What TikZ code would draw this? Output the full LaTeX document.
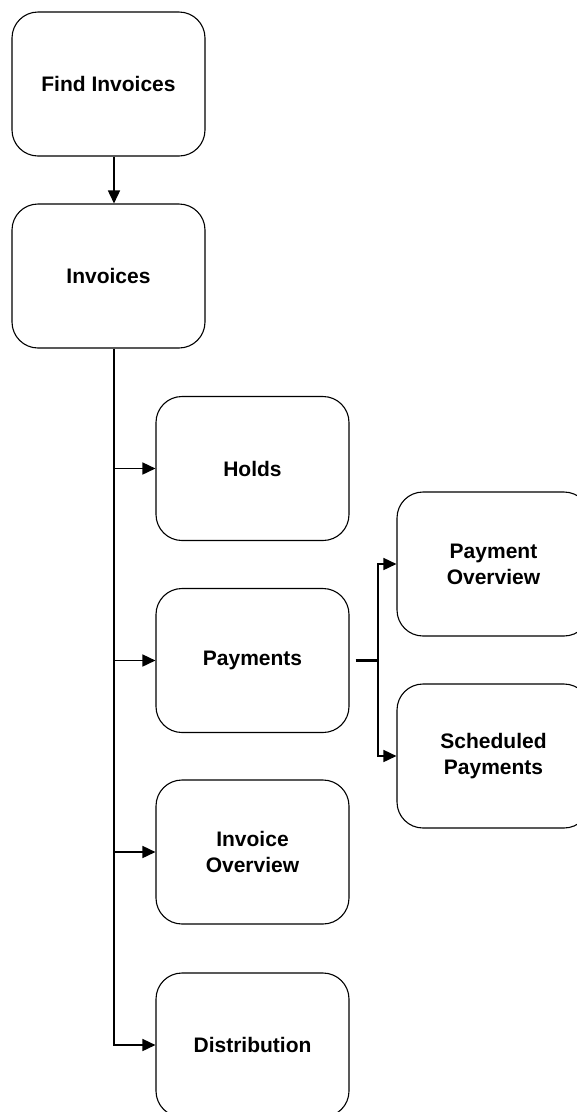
\documentclass[tikz,border=0pt]{standalone}
\usepackage{fontspec}
\setmainfont{Liberation Sans}
\usetikzlibrary{arrows.meta}

\begin{document}
\begin{tikzpicture}[x=1pt, y=-1pt,
    screen/.style={draw, line width=1.1pt, rounded corners=26pt, minimum width=193pt, minimum height=144pt,
                   align=center, font=\fontsize{21}{26}\selectfont\bfseries},
    link/.style={line width=1.6pt, -{Triangle[length=13pt, width=12pt]}}]
    \useasboundingbox (0,0) rectangle (577,1112);
    % top of the tree
    \node[screen] (find)     at (108.5, 84)   {Find Invoices};
    \node[screen] (invoices) at (108.5, 276)  {Invoices};
    % invoice tabs
    \node[screen] (holds)    at (252.5, 468.5) {Holds};
    \node[screen] (payments) at (252.5, 660.5) {Payments};
    \node[screen] (invview)  at (252.5, 852)   {Invoice\\Overview};
    \node[screen] (distrib)  at (252.5, 1045)  {Distribution};
    % payment tabs
    \node[screen] (payview)  at (493.5, 564)   {Payment\\Overview};
    \node[screen] (sched)    at (493.5, 756)   {Scheduled\\Payments};
    \draw[link] ([xshift=5.5pt]find.south) -- ([xshift=5.5pt]invoices.north);
    \coordinate (trunk) at ([xshift=5.5pt]invoices.south);
    \draw[link] (trunk) |- (distrib.west);
    \draw[link] (trunk |- holds.west) -- (holds.west);
    \draw[link] (trunk |- payments.west) -- (payments.west);
    \draw[link] (trunk |- invview.west) -- (invview.west);
    \coordinate (split) at (378, 660.5);
    \draw[line width=2.4pt] ([xshift=6pt]payments.east) -- (split);
    \draw[link] (split) |- (payview.west);
    \draw[link] (split) |- (sched.west);
\end{tikzpicture}
\end{document}
